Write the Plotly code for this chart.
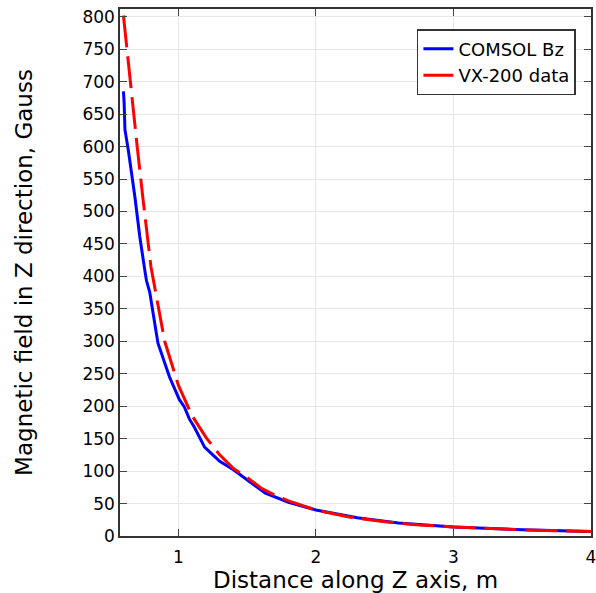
import plotly.graph_objects as go

comsol_z = [0.600, 0.605, 0.611, 0.635, 0.683, 0.719, 0.755, 0.767, 0.791, 0.851, 0.935, 1.007,
            1.043, 1.080, 1.115, 1.150, 1.190, 1.250, 1.300, 1.400, 1.500, 1.632, 1.800,
            2.000, 2.300, 2.600, 3.000, 3.500, 4.000]
comsol_bz = [685, 668, 626, 595, 523, 461, 410, 394, 376, 297, 245, 210,
             199, 180, 168, 153, 137, 125, 115, 102, 86, 66, 52,
             40, 28, 20, 14, 9.5, 7]

vx_z = [0.600, 0.647, 0.700, 0.743, 0.800, 0.900, 1.000, 1.100, 1.200, 1.300, 1.400,
        1.500, 1.600, 1.700, 1.800, 2.000, 2.250, 2.500, 2.750, 3.000, 3.250, 3.500,
        3.750, 4.000]
vx_bz = [802, 703, 600, 518, 415, 300, 232, 185, 152, 125, 104,
         90, 74, 63, 54, 40, 29, 22, 17, 14, 11.5, 9.5,
         8, 6.8]

y_ticks = list(range(0, 801, 50))
x_ticks = [1, 2, 3, 4]

fig = go.Figure()
fig.add_trace(go.Scatter(x=comsol_z, y=comsol_bz, mode="lines", name="COMSOL Bz",
                         line=dict(color="#0000ff", width=3)))
fig.add_trace(go.Scatter(x=vx_z, y=vx_bz, mode="lines", name="VX-200 data",
                         line=dict(color="#ff0000", width=3, dash="32px,9px")))

font_family = "DejaVu Sans"
fig.update_layout(
    width=596, height=593,
    margin=dict(l=120, r=0, t=9, b=57),
    paper_bgcolor="white", plot_bgcolor="white",
    font=dict(family=font_family, color="black", size=17),
    showlegend=True,
    legend=dict(x=0.968, y=0.962, xanchor="right", yanchor="top",
                bgcolor="white", bordercolor="#333333", borderwidth=1.5,
                font=dict(size=18, family=font_family), tracegroupgap=0),
    xaxis=dict(range=[0.575, 4.0], tickvals=x_ticks, ticks="inside", ticklen=7,
               showline=True, linecolor="#333333", linewidth=1.5, mirror="ticks",
               showgrid=True, gridcolor="#e6e6e6", zeroline=False,
               ticklabeloverflow="allow", ticklabelstandoff=5,
               tickfont=dict(size=17), title=dict(text="Distance along Z axis, m",
                                                  font=dict(size=23), standoff=1)),
    yaxis=dict(range=[0, 812], tickvals=y_ticks, ticks="inside", ticklen=7,
               showline=True, linecolor="#333333", linewidth=1.5, mirror="ticks",
               showgrid=True, gridcolor="#e6e6e6", zeroline=False,
               tickfont=dict(size=17),
               title=dict(text="Magnetic field in Z direction, Gauss",
                          font=dict(size=23), standoff=43)),
)

fig.write_html("out.html")
